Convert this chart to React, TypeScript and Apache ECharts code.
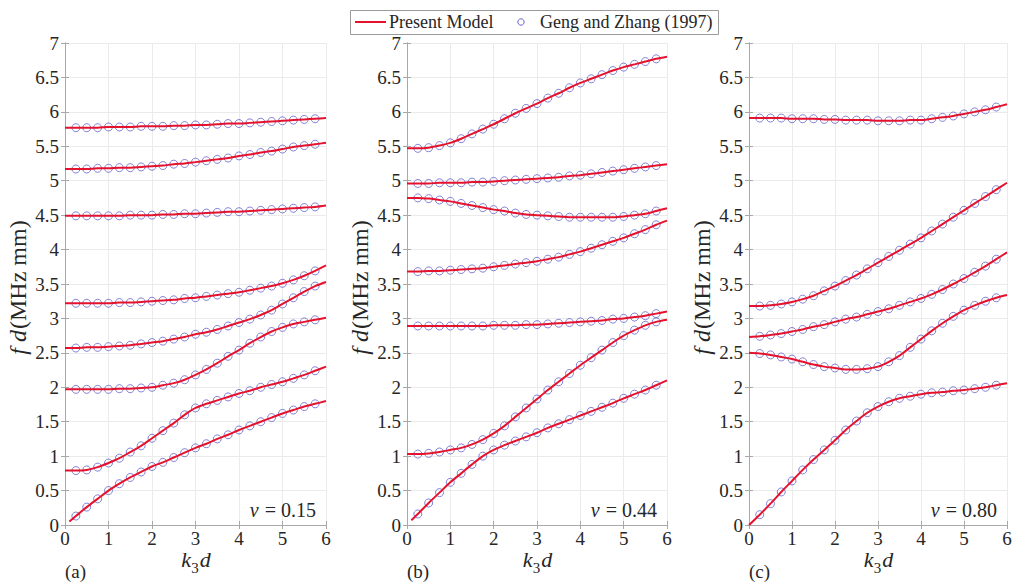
import React, { useEffect, useRef } from "react";
import * as echarts from "echarts";

// ---------- data ----------
const K3D = [0, 0.25, 0.5, 0.75, 1, 1.25, 1.5, 1.75, 2, 2.25, 2.5, 2.75, 3, 3.25, 3.5, 3.75, 4, 4.25, 4.5, 4.75, 5, 5.25, 5.5, 5.75, 6];
const K3D_LOW = [0.1, 0.25, 0.5, 0.75, 1, 1.25, 1.5, 1.75, 2, 2.25, 2.5, 2.75, 3, 3.25, 3.5, 3.75, 4, 4.25, 4.5, 4.75, 5, 5.25, 5.5, 5.75, 6];
const X_TICKS = [0, 1, 2, 3, 4, 5, 6];
const Y_TICKS = [0, 0.5, 1, 1.5, 2, 2.5, 3, 3.5, 4, 4.5, 5, 5.5, 6, 6.5, 7];

// (a) nu = 0.15
const A_M1 = [5.77, 5.77, 5.77, 5.77, 5.78, 5.78, 5.78, 5.79, 5.79, 5.79, 5.80, 5.80, 5.81, 5.81, 5.82, 5.83, 5.83, 5.84, 5.85, 5.86, 5.87, 5.88, 5.89, 5.90, 5.91];
const A_M2 = [5.17, 5.17, 5.17, 5.18, 5.18, 5.19, 5.19, 5.20, 5.21, 5.22, 5.24, 5.25, 5.27, 5.29, 5.31, 5.33, 5.36, 5.38, 5.41, 5.43, 5.46, 5.49, 5.51, 5.53, 5.55];
const A_M3 = [4.49, 4.49, 4.49, 4.49, 4.49, 4.49, 4.50, 4.50, 4.50, 4.51, 4.51, 4.52, 4.52, 4.53, 4.54, 4.55, 4.55, 4.56, 4.57, 4.58, 4.59, 4.60, 4.61, 4.62, 4.64];
const A_M4 = [3.22, 3.22, 3.22, 3.22, 3.22, 3.23, 3.23, 3.24, 3.25, 3.26, 3.27, 3.29, 3.30, 3.32, 3.34, 3.36, 3.38, 3.41, 3.44, 3.47, 3.51, 3.56, 3.62, 3.69, 3.77];
const A_M5 = [2.57, 2.57, 2.58, 2.58, 2.59, 2.60, 2.61, 2.63, 2.65, 2.67, 2.70, 2.73, 2.77, 2.80, 2.84, 2.89, 2.94, 2.99, 3.05, 3.12, 3.21, 3.30, 3.39, 3.47, 3.53];
const A_M6 = [1.97, 1.97, 1.97, 1.97, 1.97, 1.98, 1.98, 1.99, 2.00, 2.03, 2.06, 2.11, 2.18, 2.26, 2.35, 2.45, 2.54, 2.64, 2.73, 2.81, 2.87, 2.92, 2.95, 2.98, 3.01];
const A_M7 = [0.79, 0.79, 0.80, 0.84, 0.90, 0.97, 1.06, 1.15, 1.26, 1.37, 1.48, 1.60, 1.70, 1.76, 1.81, 1.86, 1.91, 1.95, 2.00, 2.04, 2.08, 2.13, 2.18, 2.24, 2.30];
const A_M8 = [0.05, 0.13, 0.26, 0.38, 0.50, 0.60, 0.69, 0.77, 0.85, 0.91, 0.98, 1.05, 1.12, 1.18, 1.25, 1.31, 1.38, 1.44, 1.50, 1.56, 1.62, 1.67, 1.72, 1.76, 1.80];

// (b) nu = 0.44
const B_M1 = [5.47, 5.47, 5.48, 5.51, 5.55, 5.61, 5.68, 5.75, 5.82, 5.90, 5.98, 6.05, 6.12, 6.20, 6.27, 6.35, 6.42, 6.48, 6.54, 6.60, 6.65, 6.69, 6.73, 6.77, 6.80];
const B_M2 = [4.96, 4.96, 4.96, 4.97, 4.97, 4.97, 4.98, 4.98, 4.99, 5.00, 5.01, 5.02, 5.03, 5.04, 5.05, 5.07, 5.08, 5.10, 5.12, 5.14, 5.16, 5.18, 5.20, 5.22, 5.24];
const B_M3 = [4.75, 4.75, 4.74, 4.72, 4.70, 4.67, 4.64, 4.61, 4.58, 4.56, 4.53, 4.51, 4.50, 4.49, 4.48, 4.47, 4.47, 4.47, 4.47, 4.47, 4.48, 4.50, 4.52, 4.56, 4.60];
const B_M4 = [3.68, 3.68, 3.69, 3.69, 3.70, 3.71, 3.72, 3.73, 3.75, 3.77, 3.79, 3.81, 3.83, 3.86, 3.89, 3.93, 3.97, 4.02, 4.07, 4.12, 4.17, 4.23, 4.29, 4.36, 4.42];
const B_M5 = [2.89, 2.89, 2.89, 2.89, 2.89, 2.89, 2.89, 2.89, 2.90, 2.90, 2.90, 2.91, 2.91, 2.92, 2.93, 2.94, 2.95, 2.96, 2.97, 2.99, 3.00, 3.02, 3.04, 3.07, 3.10];
const B_M6 = [1.03, 1.03, 1.04, 1.06, 1.09, 1.12, 1.17, 1.24, 1.33, 1.44, 1.57, 1.70, 1.83, 1.96, 2.08, 2.20, 2.32, 2.43, 2.54, 2.65, 2.75, 2.83, 2.90, 2.95, 2.98];
const B_M7 = [0.07, 0.16, 0.32, 0.47, 0.62, 0.75, 0.88, 1.00, 1.09, 1.16, 1.22, 1.28, 1.34, 1.41, 1.47, 1.53, 1.59, 1.65, 1.71, 1.77, 1.84, 1.90, 1.96, 2.03, 2.10];

// (c) nu = 0.80
const C_M1 = [5.91, 5.91, 5.91, 5.91, 5.90, 5.90, 5.90, 5.89, 5.89, 5.88, 5.88, 5.88, 5.87, 5.87, 5.87, 5.88, 5.88, 5.90, 5.92, 5.94, 5.97, 6.00, 6.03, 6.07, 6.11];
const C_M2 = [3.18, 3.18, 3.19, 3.21, 3.24, 3.28, 3.33, 3.40, 3.47, 3.55, 3.63, 3.72, 3.81, 3.90, 3.99, 4.08, 4.17, 4.27, 4.37, 4.47, 4.57, 4.67, 4.77, 4.87, 4.97];
const C_M3 = [2.73, 2.74, 2.76, 2.78, 2.81, 2.84, 2.88, 2.91, 2.95, 2.99, 3.02, 3.06, 3.10, 3.14, 3.19, 3.24, 3.29, 3.35, 3.42, 3.50, 3.58, 3.67, 3.76, 3.86, 3.96];
const C_M4 = [2.50, 2.49, 2.47, 2.44, 2.41, 2.37, 2.33, 2.30, 2.28, 2.26, 2.26, 2.27, 2.30, 2.37, 2.46, 2.58, 2.70, 2.82, 2.93, 3.03, 3.12, 3.19, 3.25, 3.30, 3.34];
const C_M5 = [0.00, 0.15, 0.31, 0.48, 0.64, 0.80, 0.95, 1.09, 1.23, 1.38, 1.51, 1.63, 1.72, 1.79, 1.84, 1.87, 1.90, 1.92, 1.93, 1.95, 1.96, 1.98, 2.00, 2.03, 2.06];

const PANEL_LABELS = ["(a)", "(b)", "(c)"];
const NU_LABELS = ["0.15", "0.44", "0.80"];
const LEGEND_NAMES = ["Present Model", "Geng and Zhang (1997)"];
const Y_NAME_ITALIC = "f d";
const Y_NAME_UNIT = "(MHz mm)";

// ---------- layout / style ----------
const FONT = "Liberation Serif";
const RED = "#e5122e";
const BLUE = "#5252c4";
const FRAME = "#a8a8a8";
const GRID_LINE = "#ebebeb";
const TEXT = "#262626";
const TOP = 43;
const HEIGHT = 482;
const PANELS = [
  { left: 65, width: 261, curves: [[K3D, A_M1], [K3D, A_M2], [K3D, A_M3], [K3D, A_M4], [K3D, A_M5], [K3D, A_M6], [K3D, A_M7], [K3D_LOW, A_M8]] },
  { left: 407, width: 260, curves: [[K3D, B_M1], [K3D, B_M2], [K3D, B_M3], [K3D, B_M4], [K3D, B_M5], [K3D, B_M6], [K3D_LOW, B_M7]] },
  { left: 749, width: 258, curves: [[K3D, C_M1], [K3D, C_M2], [K3D, C_M3], [K3D, C_M4], [K3D, C_M5]] },
];

const measureCtx: any = typeof document !== "undefined" ? document.createElement("canvas").getContext("2d") : null;
function measure(s: string, size: number, italic = false) {
  if (!measureCtx) return s.length * size * 0.5;
  measureCtx.font = `${italic ? "italic " : ""}${size}px "${FONT}"`;
  return measureCtx.measureText(s).width;
}

function tstyle(text: string, size: number, italic = false, align = "left", vAlign = "middle") {
  return {
    text,
    fontSize: size,
    fontFamily: FONT,
    fontStyle: italic ? "italic" : "normal",
    fill: TEXT,
    textAlign: align,
    textVerticalAlign: vAlign,
  };
}

function buildOption() {
  const grid: any[] = [];
  const xAxis: any[] = [];
  const yAxis: any[] = [];
  const series: any[] = [];
  const graphic: any[] = [];

  PANELS.forEach((p, i) => {
    grid.push({ left: p.left, top: TOP, width: p.width, height: HEIGHT, show: false });
    const common = {
      gridIndex: i,
      type: "value",
      axisLine: { show: true, lineStyle: { color: FRAME, width: 1 } },
      axisTick: { show: true, inside: true, length: 4, lineStyle: { color: FRAME } },
    };
    xAxis.push({
      ...common,
      position: "bottom",
      min: X_TICKS[0],
      max: X_TICKS[X_TICKS.length - 1],
      interval: 1,
      axisLabel: { color: TEXT, fontFamily: FONT, fontSize: 19, margin: 4 },
      splitLine: { show: true, lineStyle: { color: GRID_LINE, width: 1 } },
    });
    xAxis.push({
      ...common,
      position: "top",
      min: X_TICKS[0],
      max: X_TICKS[X_TICKS.length - 1],
      interval: 1,
      axisLabel: { show: false },
      splitLine: { show: false },
    });
    yAxis.push({
      ...common,
      position: "left",
      min: Y_TICKS[0],
      max: Y_TICKS[Y_TICKS.length - 1],
      interval: 0.5,
      axisLabel: { color: TEXT, fontFamily: FONT, fontSize: 19, margin: 6 },
      splitLine: { show: true, lineStyle: { color: GRID_LINE, width: 1 } },
    });
    yAxis.push({
      ...common,
      position: "right",
      min: Y_TICKS[0],
      max: Y_TICKS[Y_TICKS.length - 1],
      interval: 0.5,
      axisLabel: { show: false },
      splitLine: { show: false },
    });

    p.curves.forEach(([xs, ys]) => {
      const pts = xs.map((x, k) => [x, ys[k]]);
      series.push({
        type: "scatter",
        name: LEGEND_NAMES[1],
        xAxisIndex: 2 * i,
        yAxisIndex: 2 * i,
        data: pts.slice(1, pts.length - 1),
        symbol: "circle",
        symbolSize: 8,
        itemStyle: { color: "rgba(0,0,0,0)", borderColor: BLUE, borderWidth: 0.9 },
        z: 2,
      });
      series.push({
        type: "line",
        name: LEGEND_NAMES[0],
        xAxisIndex: 2 * i,
        yAxisIndex: 2 * i,
        data: pts,
        smooth: 0.3,
        showSymbol: false,
        symbol: "none",
        lineStyle: { color: RED, width: 2 },
        z: 3,
      });
    });

    const cx = p.left + p.width / 2;

    // x-axis name: k_3 d
    const kw = measure("k", 22, true);
    const sw = measure("3", 15);
    const dw = measure("d", 22, true);
    const x0 = cx - (kw + sw + dw) / 2;
    const baseY = 570;
    graphic.push({ type: "text", x: x0, y: baseY, style: tstyle("k", 22, true, "left", "bottom") });
    graphic.push({ type: "text", x: x0 + kw, y: baseY + 5, style: tstyle("3", 15, false, "left", "bottom") });
    graphic.push({ type: "text", x: x0 + kw + sw + 1, y: baseY, style: tstyle("d", 22, true, "left", "bottom") });

    // y-axis name: f d (MHz mm), rotated, centered at y = 288
    const ySize = 24;
    const wI = measure(Y_NAME_ITALIC, ySize, true);
    const wU = measure(Y_NAME_UNIT, ySize);
    const junction = 288 + (wU - wI) / 2;
    graphic.push({
      type: "group",
      x: p.left - 47,
      y: junction,
      rotation: Math.PI / 2,
      children: [
        { type: "text", x: 0, y: 0, style: tstyle(Y_NAME_ITALIC, ySize, true, "right", "middle") },
        { type: "text", x: 1, y: 0, style: tstyle(Y_NAME_UNIT, ySize, false, "left", "middle") },
      ],
    });

    // panel label
    graphic.push({ type: "text", x: p.left, y: 571, style: tstyle(PANEL_LABELS[i], 19, false, "left", "middle") });

    // nu label
    const rest = `= ${NU_LABELS[i]}`;
    const restW = measure(rest, 20);
    const xr = p.left + p.width - 10;
    graphic.push({ type: "text", x: xr, y: 510, z: 10, style: tstyle(rest, 20, false, "right", "middle") });
    graphic.push({ type: "text", x: xr - restW - 6, y: 510, z: 10, style: tstyle("ν", 20, true, "right", "middle") });
  });

  // legend
  graphic.push({
    type: "group",
    z: 20,
    children: [
      { type: "rect", shape: { x: 350.5, y: 10.5, width: 368, height: 24 }, style: { fill: "#fff", stroke: "#9a9a9a", lineWidth: 1 } },
      { type: "line", shape: { x1: 355, y1: 22, x2: 386, y2: 22 }, style: { stroke: RED, lineWidth: 2 } },
      { type: "text", x: 389, y: 22, style: tstyle(LEGEND_NAMES[0], 18, false, "left", "middle") },
      { type: "circle", shape: { cx: 521, cy: 22, r: 3.2 }, style: { fill: "none", stroke: BLUE, lineWidth: 0.9 } },
      { type: "text", x: 540, y: 22, style: tstyle(LEGEND_NAMES[1], 18, false, "left", "middle") },
    ],
  });

  return { animation: false, backgroundColor: "#fff", grid, xAxis, yAxis, series, graphic };
}

export default function App() {
  const ref = useRef<HTMLDivElement>(null);
  useEffect(() => {
    if (!ref.current) return;
    const chart = echarts.init(ref.current, undefined, { renderer: "svg" });
    chart.setOption(buildOption() as any);
    return () => chart.dispose();
  }, []);
  return (
    <div
      ref={ref}
      style={{ position: "fixed", left: 0, top: 0, width: 1017, height: 582, background: "#fff" }}
    />
  );
}
